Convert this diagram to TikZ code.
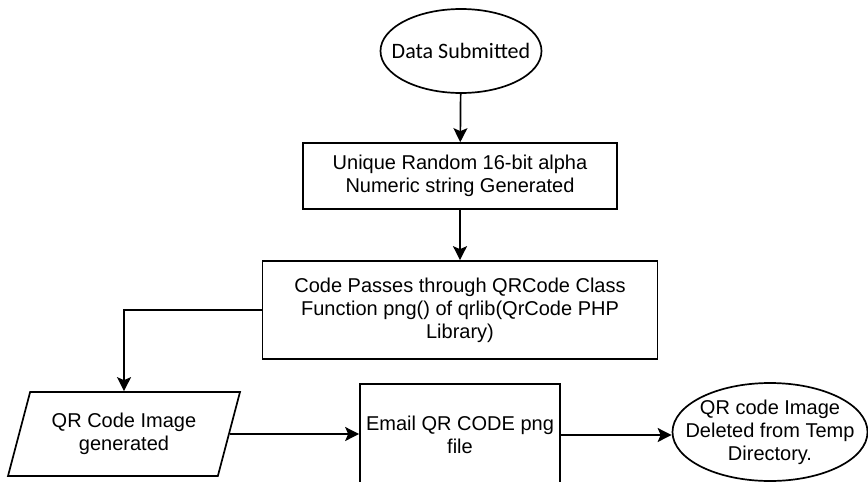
\documentclass[tikz,border=0pt]{standalone}
\usepackage{fontspec}
\setmainfont{Liberation Sans}
\newfontfamily\calib{Carlito}
\usetikzlibrary{arrows.meta,positioning,shapes.geometric}

\begin{document}
\begin{tikzpicture}[x=1pt, y=-1pt,
  pbox/.style={rectangle, draw, line width=1.7pt, inner sep=0pt,
               align=center, font=\fontsize{20}{23}\selectfont},
  tbox/.style={ellipse, draw, line width=1.7pt, inner xsep=-20pt, inner ysep=-10pt,
               align=center, font=\fontsize{20}{23}\selectfont},
  iobox/.style={trapezium, trapezium left angle=62, trapezium right angle=118,
               trapezium stretches body, draw, line width=1.7pt, inner sep=0pt,
               align=center, font=\fontsize{20}{23}\selectfont},
  arr/.style={-{Stealth[length=14pt, width=14pt, inset=3pt]}, line width=1.7pt}
]
\useasboundingbox (0,0) rectangle (868,482);
\clip (0,0) rectangle (868,482);

% Start
\node[tbox, minimum width=161pt, minimum height=84pt,
      font=\calib\fontsize{22}{26}\selectfont] (sub) at (461,51) {Data Submitted};

% Process boxes
\node[pbox, minimum width=314pt, minimum height=66pt] (gen) at (460,176)
  {Unique Random 16-bit alpha\\Numeric string Generated};
\node[pbox, minimum width=395pt, minimum height=98pt] (lib) at (460,310)
  {Code Passes through QRCode Class\\Function png() of qrlib(QrCode PHP\\Library)};

% Bottom row
\node[iobox, minimum width=232pt, minimum height=84pt] (img) at (124,434)
  {QR Code Image\\generated};
\node[pbox, minimum width=200pt, minimum height=102pt] (mail) at (460,435)
  {Email QR CODE png\\file};
\node[tbox, minimum width=195pt, minimum height=98pt] (del) at (770,432)
  {QR code Image\\Deleted from Temp\\Directory.};

% Arrows
\draw[arr] (sub) -- (gen);
\draw[arr] (gen) -- (lib);
\draw[arr] (lib.west) -| (img.north);
\draw[arr] (img.east) -- (img.east -| mail.west);
\draw[arr] (mail.east) -- (mail.east -| del.west);
\end{tikzpicture}
\end{document}
